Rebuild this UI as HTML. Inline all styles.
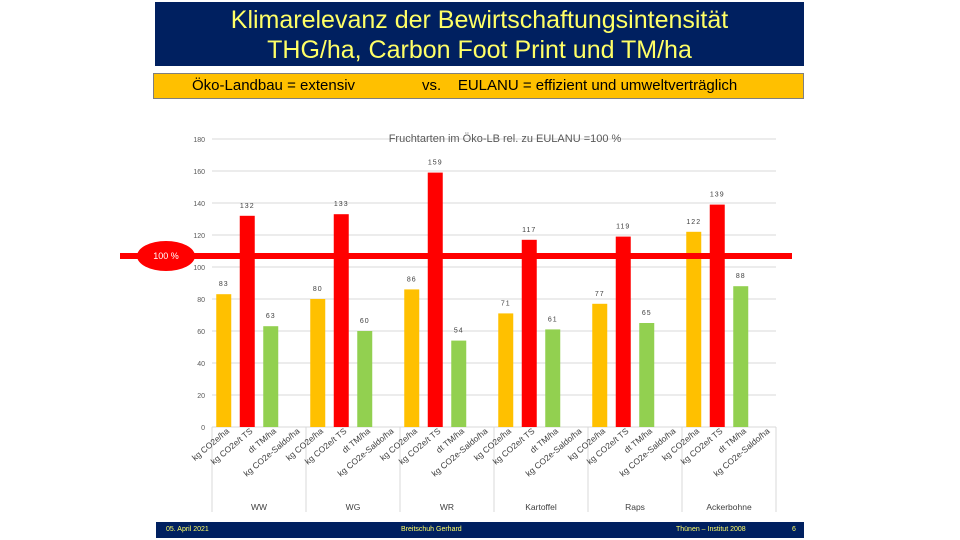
<!DOCTYPE html>
<html><head><meta charset="utf-8">
<style>
body{margin:0;width:960px;height:540px;background:#fff;overflow:hidden;font-family:"Liberation Sans",sans-serif;position:relative}
#title{position:absolute;left:155px;top:2px;width:649px;height:64px;background:#002060;color:#ffff66;text-align:center;font-size:25px;line-height:30px;padding-top:3px;box-sizing:border-box}
#sub{position:absolute;left:153px;top:73px;width:651px;height:26px;background:#ffc000;border:1px solid #7f7f7f;box-sizing:border-box;font-size:15px;line-height:24px;color:#000}
#foot{position:absolute;left:156px;top:522px;width:648px;height:16px;background:#002060;color:#ffff66;font-size:7px;line-height:16px}
svg{position:absolute;left:0;top:0}
</style></head><body>
<div id="title">Klimarelevanz der Bewirtschaftungsintensität<br>THG/ha, Carbon Foot Print und TM/ha</div>
<div id="sub"><span style="position:absolute;left:38px">Öko-Landbau = extensiv</span><span style="position:absolute;left:268px">vs.&nbsp;&nbsp;&nbsp; EULANU = effizient und umweltverträglich</span></div>
<div id="foot"><span style="position:absolute;left:10px">05. April 2021</span><span style="position:absolute;left:245px">Breitschuh Gerhard</span><span style="position:absolute;left:520px">Thünen – Institut 2008</span><span style="position:absolute;left:636px">6</span></div>
<svg id="chart" width="960" height="540"></svg>
<script>
const groups=["WW","WG","WR","Kartoffel","Raps","Ackerbohne"];
const measures=["kg CO2e/ha","kg CO2e/t TS","dt TM/ha","kg CO2e-Saldo/ha"];
const orangeVals=[83,80,86,71,77,122];
const redVals=[132,133,159,117,119,139];
const greenVals=[63,60,54,61,65,88];
const yTicks=[0,20,40,60,80,100,120,140,160,180];
const refValue=100;
const NS="http://www.w3.org/2000/svg";
const svg=document.getElementById('chart');
const L=212,GW=94,Y0=427,PX=32/20;
const y=v=>Y0-v*PX;
const xs=(g,s)=>L+g*GW+(s+0.5)*GW/4;
function mk(t,a,txt){const e=document.createElementNS(NS,t);for(const k in a)e.setAttribute(k,a[k]);if(txt!==undefined)e.textContent=txt;svg.appendChild(e);return e;}
yTicks.forEach(v=>{
 const gl=mk('line',{x1:L,x2:L+6*GW,y1:y(v),y2:y(v),stroke:'#d9d9d9','stroke-width':1});
 
 
 const t=mk('text',{x:205,y:y(v)+3,'font-size':7,fill:'#595959','text-anchor':'end'},v);
 
 
});
const ct=mk('text',{x:505,y:142,'font-size':11,fill:'#595959','text-anchor':'middle'},'Fruchtarten im Öko-LB rel. zu EULANU =100 %');


for(let g=0;g<=6;g++){
 const s=mk('line',{x1:L+g*GW,x2:L+g*GW,y1:Y0,y2:512,stroke:'#d9d9d9','stroke-width':1});
 
 
}
const series=[[orangeVals,'#ffc000'],[redVals,'#ff0000'],[greenVals,'#92d050']];
groups.forEach((gname,g)=>{
 series.forEach(([vals,col],s)=>{
  const v=vals[g],cx=xs(g,s);
  const r=mk('rect',{x:cx-7.5,y:y(v),width:15,height:v*PX,fill:col});
  
  
  const t=mk('text',{x:cx,y:y(v)-8,'font-size':7,fill:'#404040','text-anchor':'middle','letter-spacing':'1'},v);
  
  
 });
 measures.forEach((m,s)=>{
  const cx=xs(g,s)+6;
  const t=mk('text',{x:cx,y:432,'font-size':8.5,fill:'#404040','text-anchor':'end',transform:`rotate(-40 ${cx} 432)`},m);
  
  
 });
 const gl=mk('text',{x:L+g*GW+GW/2,y:510,'font-size':8.5,fill:'#404040','text-anchor':'middle'},gname);
 
 
});
const rl=mk('line',{x1:120,x2:792,y1:y(refValue)-11,y2:y(refValue)-11,stroke:'#ff0000','stroke-width':6});


const el=mk('ellipse',{cx:166,cy:y(refValue)-11,rx:29,ry:15,fill:'#ff0000'});


const et=mk('text',{x:166,y:y(refValue)-8,'font-size':9,fill:'#fff','text-anchor':'middle'},'100 %');


</script>
</body></html>
